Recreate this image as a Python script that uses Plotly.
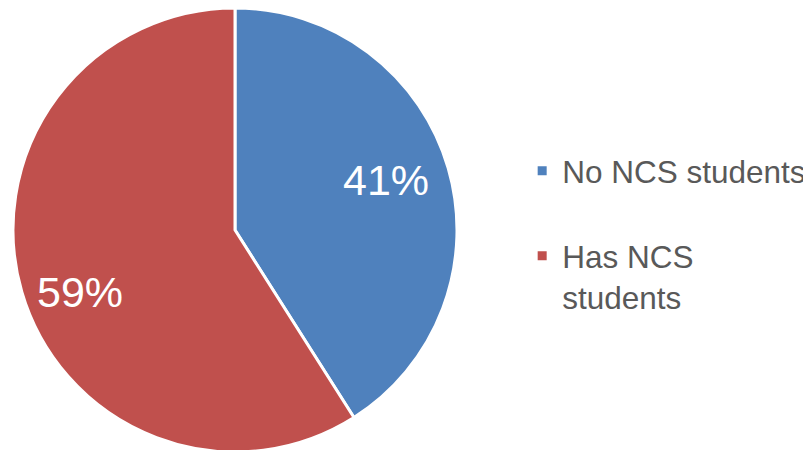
import math
import plotly.graph_objects as go

labels = ["No NCS students<br> ", "Has NCS<br>students"]
values = [41, 59]
colors = ["#4F81BD", "#C0504D"]

W, H = 811, 450
# page body adds an 8px offset; pie centre/radius in figure pixels
cx, cy, r = 227, 222, 222

fig = go.Figure(go.Pie(
    labels=labels,
    values=values,
    marker=dict(colors=colors, line=dict(color="white", width=3)),
    sort=False,
    direction="clockwise",
    rotation=0,
    textinfo="none",
    domain=dict(x=[(cx - r) / W, (cx + r) / W], y=[(H - cy - r) / H, (H - cy + r) / H]),
    hoverinfo="label+percent",
))

# percentage labels placed along each slice's bisector
total = sum(values)
start = 0.0
for v in values:
    frac = v / total
    mid = (start + frac / 2) * 2 * math.pi - math.radians(4)
    start += frac
    rr = 0.732 * r
    px = cx + rr * math.sin(mid)
    py = cy - rr * math.cos(mid)
    fig.add_annotation(
        x=px / W, y=(H - py) / H, xref="paper", yref="paper",
        text=f"{round(frac * 100)}%", showarrow=False,
        font=dict(family="Liberation Sans, Arial", size=43, color="white"),
        xanchor="center", yanchor="middle", xshift=-2, yshift=-6,
    )

fig.update_layout(
    width=W, height=H,
    margin=dict(l=0, r=0, t=0, b=0),
    paper_bgcolor="white",
    plot_bgcolor="white",
    showlegend=True,
    legend=dict(
        x=0.634, y=0.698, xanchor="left", yanchor="top",
        font=dict(family="Liberation Sans, Arial", size=31.5, color="#595959"),
        valign="top",
    ),
)

fig.write_html("out.html")
